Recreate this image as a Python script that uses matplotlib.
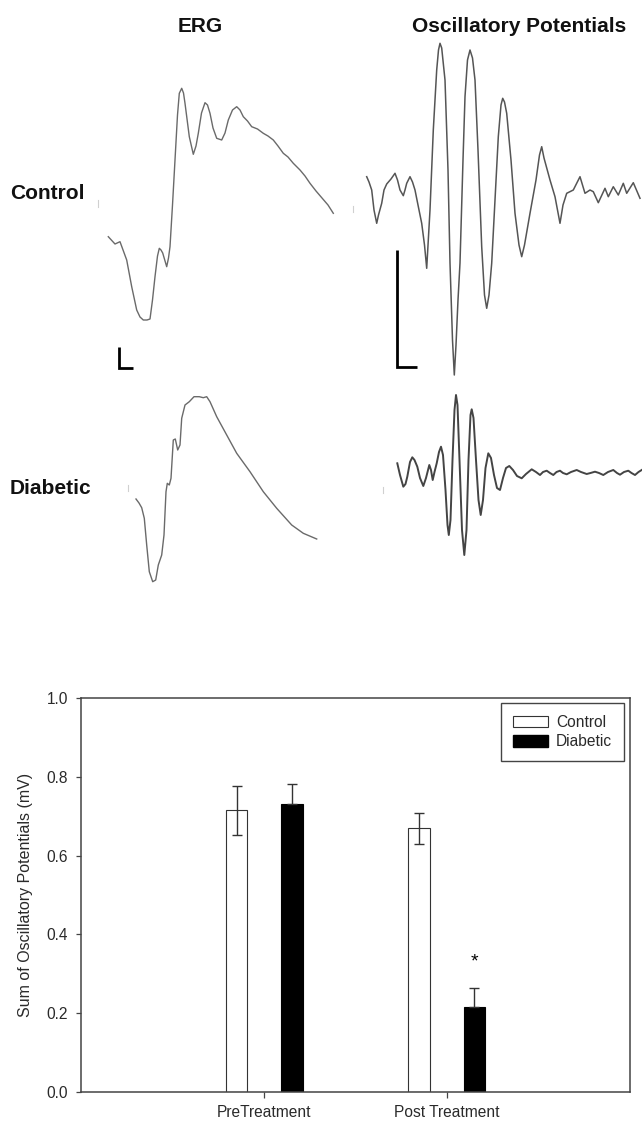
import matplotlib
matplotlib.use('Agg')
import matplotlib.pyplot as plt
from matplotlib.patches import Patch

plt.rcParams['font.family'] = ['Liberation Sans', 'DejaVu Sans']

# ── 파형 데이터 (그림 좌표로 읽은 값: 시간축 x, 전위 y) ─────────────────────
erg_ctrl_t = [108.3, 115, 120, 126.7, 131.7, 136.7, 140, 143.3, 147, 150, 152.5, 155, 157.5,
              159.3, 161, 162.7, 166.7, 168.5, 170, 172.5, 175, 177.5, 179.3, 181.7, 183.5,
              185, 189.3, 193.3, 196, 198.3, 201.5, 205, 207.5, 210, 213, 216.7, 221.7, 225,
              228.3, 232.5, 236.7, 240, 243.3, 247.5, 251.7, 257.5, 263.3, 268, 273.3, 278,
              283.3, 288, 293.3, 300, 305, 310, 316, 322, 328, 333.3]
erg_ctrl_v = [236.7, 244, 241.7, 260, 286.7, 310, 317, 320, 320, 319, 300, 276.7, 256,
              248.3, 250, 253, 266.7, 258, 246.7, 205, 160, 115, 93.3, 88.3, 93,
              103.3, 136.7, 154.3, 146, 133.3, 113, 102.7, 105, 113.3, 128, 138.3, 140, 133,
              120, 110, 106.7, 110, 116.7, 121, 126.7, 129, 133.3, 136, 140, 146,
              153.3, 157, 163.3, 170, 176, 183.3, 191, 198, 205, 213.3]

op_ctrl_t = [366.7, 369, 371.7, 374, 376.7, 378.5, 381.7, 384, 386.7, 391, 395, 397.5, 400,
             403.3, 405, 406.7, 410, 412.5, 415, 418, 421.7, 424.5, 426.7, 430, 433.3, 436.7,
             438.5, 440, 441.7, 445, 448, 450, 452.5, 454.3, 456, 458, 460, 463, 465, 467.5,
             470, 472.5, 475, 478, 481.7, 484.5, 486.7, 489, 491.7, 495, 498.3, 501, 502.7,
             504.5, 506.7, 511, 515, 519, 521.7, 524.5, 530, 536, 539.5, 541.7, 544, 550,
             555, 560, 563, 566.7, 573.3, 580, 585, 590, 593.3, 598.3, 605, 608.3, 613.3,
             618.3, 623.3, 626.7, 633.3, 640]
op_ctrl_v = [176.7, 182, 190, 210, 223.3, 215, 203.3, 190, 184, 179, 173.3, 180, 190,
             195.7, 190, 183.3, 176.7, 182, 190, 205, 223.3, 245, 268.3, 210, 130, 70,
             50, 43.3, 48, 80, 170, 263, 340, 375, 345, 300, 263, 160, 96.7, 60,
             50, 58, 80, 150, 246.7, 295, 308.3, 295, 263.3, 200, 136.7, 105, 98.3,
             102, 113.3, 160, 213.3, 245, 256.7, 245, 213.3, 180, 155, 146.7, 158, 180,
             196.7, 223.3, 205, 193.3, 190, 176.7, 193.3, 190, 191.7, 202.7, 188.3, 196.7, 186.7,
             195, 183.3, 193.3, 182.7, 198.3]

erg_diab_t = [136, 139, 141.7, 144.3, 146.7, 149.3, 152.7, 155.7, 158.3, 161.7, 164, 166,
              167.3, 169.3, 171, 173.3, 175.3, 177.7, 180, 181.7, 185, 189.3, 194, 199.3,
              203.3, 206.7, 210, 216.7, 226.7, 236.7, 250, 263.3, 276.7, 291.7, 303.3, 316.7]
erg_diab_v = [499, 503, 507.7, 518.3, 545, 571.7, 581.7, 580, 565, 555, 535, 491.7,
              483.3, 485, 478.3, 440, 439, 450, 445, 418.3, 405, 401.7, 396.7, 396.7,
              397.7, 396.7, 401.7, 416.7, 435, 453.3, 471.7, 491.7, 508.3, 525, 533.3, 539]

op_diab_t = [397.3, 400, 403.3, 405.5, 407.3, 410, 412.3, 414.5, 417.3, 420, 423.3, 426,
             429.3, 431, 432.7, 434.5, 436.7, 439, 441, 443, 445.5, 447.5, 448.8, 450.5,
             452.5, 454.5, 456, 457.5, 459.5, 462, 464.3, 466.5, 468.5, 470.5, 471.7, 473.5,
             476, 478.5, 480.7, 483, 485.5, 488.3, 491, 494, 497, 500, 503, 506, 509.3, 513,
             517, 521.7, 526, 531.7, 536, 540, 543, 546.7, 550, 553.3, 556.5, 560, 563,
             566.7, 571, 576.7, 581, 586.7, 590.5, 595, 599, 603.3, 608, 613.3, 617, 620,
             624, 628.3, 631.5, 635, 638.5, 641.7]
op_diab_v = [463.3, 475, 486.7, 484, 476.7, 462, 457.3, 460, 466.7, 478, 486, 478,
             465, 470, 480, 472, 463.3, 452, 446.7, 455, 490, 525, 535, 520,
             460, 410, 395, 405, 460, 530, 555, 530, 460, 415, 409.3, 418,
             460, 500, 515, 500, 468, 453.3, 458, 475, 488, 490, 478, 468, 466, 470,
             476, 478.3, 474, 469.3, 472, 475, 472, 470.7, 473, 475, 472, 470.7, 473,
             474.3, 472, 470, 472, 474, 473, 471.7, 473, 475, 472, 470, 473, 474.7,
             472, 470.7, 473, 475, 472, 470]

# 막대그래프 데이터
groups = ['PreTreatment', 'Post Treatment']
control_mean = [0.715, 0.669]
control_sem = [0.062, 0.040]
diabetic_mean = [0.730, 0.217]
diabetic_sem = [0.052, 0.047]

fig = plt.figure(figsize=(6.42, 11.23), dpi=100)

# ── 상단: 파형 (픽셀 좌표계 사용) ──────────────────────────────────────────
bg = fig.add_axes([0, 0, 1, 1])
bg.set_xlim(0, 642)
bg.set_ylim(1123, 0)
bg.axis('off')

bg.plot(erg_ctrl_t, erg_ctrl_v, color='#6a6a6a', lw=1.0, solid_joinstyle='round')
bg.plot(op_ctrl_t, op_ctrl_v, color='#555555', lw=1.1, solid_joinstyle='round')
bg.plot(erg_diab_t, erg_diab_v, color='#6a6a6a', lw=1.0, solid_joinstyle='round')
bg.plot(op_diab_t, op_diab_v, color='#444444', lw=1.4, solid_joinstyle='round')

# 스케일 바
bg.plot([118.9, 118.9, 133], [346.7, 368.3, 368.3], color='black', lw=2.0,
        solid_joinstyle='miter', solid_capstyle='butt')
bg.plot([396.7, 396.7, 417.3], [250, 367.3, 367.3], color='black', lw=2.0,
        solid_joinstyle='miter', solid_capstyle='butt')

# 희미한 자극 표시
for x, y0, y1 in [(98, 200, 207), (352.5, 206, 212), (128.3, 485, 491), (383, 487, 493)]:
    bg.plot([x, x], [y0, y1], color='#d0d0d0', lw=0.8)

title_kw = dict(fontsize=15, fontweight='bold', color='#111111')
bg.text(200, 31.7, 'ERG', ha='center', va='baseline', **title_kw)
bg.text(519.5, 31.7, 'Oscillatory Potentials', ha='center', va='baseline', **title_kw)
bg.text(10, 199, 'Control', ha='left', va='baseline', **title_kw)
bg.text(10, 494, 'Diabetic', ha='left', va='baseline', **title_kw)

# ── 하단: 막대그래프 ───────────────────────────────────────────────────────
ax = fig.add_axes([81 / 642, 31 / 1123, 549 / 642, 394 / 1123])
x = [0, 1]
off, w = 0.152, 0.118
txt = '#2a2a2a'
err_kw = dict(ecolor='#333333', elinewidth=1.0, capsize=3.8, capthick=1.0)
ax.bar([i - off for i in x], control_mean, w, yerr=control_sem, color='white',
       edgecolor='#333333', linewidth=0.8, error_kw=err_kw, label='Control', zorder=2)
# 당뇨군 오차막대는 위쪽만 보임
ax.bar([i + off for i in x], diabetic_mean, w,
       yerr=[[0] * len(diabetic_sem), diabetic_sem], color='black',
       edgecolor='black', linewidth=0.8, error_kw=err_kw, label='Diabetic', zorder=2)

ax.text(1 + off, 0.33, '*', ha='center', va='center', fontsize=14, color='black')

ax.set_xlim(-1.005, 2.005)
ax.set_ylim(0, 1.0)
ax.set_yticks([0.0, 0.2, 0.4, 0.6, 0.8, 1.0])
ax.set_yticklabels(['%.1f' % v for v in [0.0, 0.2, 0.4, 0.6, 0.8, 1.0]])
ax.set_xticks(x)
ax.set_xticklabels(groups)
ax.tick_params(axis='y', direction='out', length=3.6, width=0.9, pad=5.5,
               labelsize=11.2, colors='#444444', labelcolor=txt)
ax.tick_params(axis='x', direction='out', length=4.3, width=0.9, pad=5,
               labelsize=11.2, colors='#444444', labelcolor=txt)
for s in ax.spines.values():
    s.set_color('#444444')
    s.set_linewidth(1.1)

ax.set_ylabel('Sum of Oscillatory Potentials (mV)', fontsize=11.5, color=txt)
ax.yaxis.set_label_coords(-0.088, 0.5)

handles = [Patch(facecolor='white', edgecolor='#333333', linewidth=0.8, label='Control'),
           Patch(facecolor='black', edgecolor='black', label='Diabetic')]
leg = ax.legend(handles=handles, loc='upper right', bbox_to_anchor=(0.989, 0.987),
                borderaxespad=0, fontsize=11.2, fancybox=False, handlelength=2.25,
                handleheight=0.75, handletextpad=0.55, labelspacing=0.3, borderpad=0.75,
                framealpha=1, edgecolor='#444444')
leg.get_frame().set_linewidth(1.0)
for t in leg.get_texts():
    t.set_color(txt)

fig.savefig('out.png', dpi=100)
